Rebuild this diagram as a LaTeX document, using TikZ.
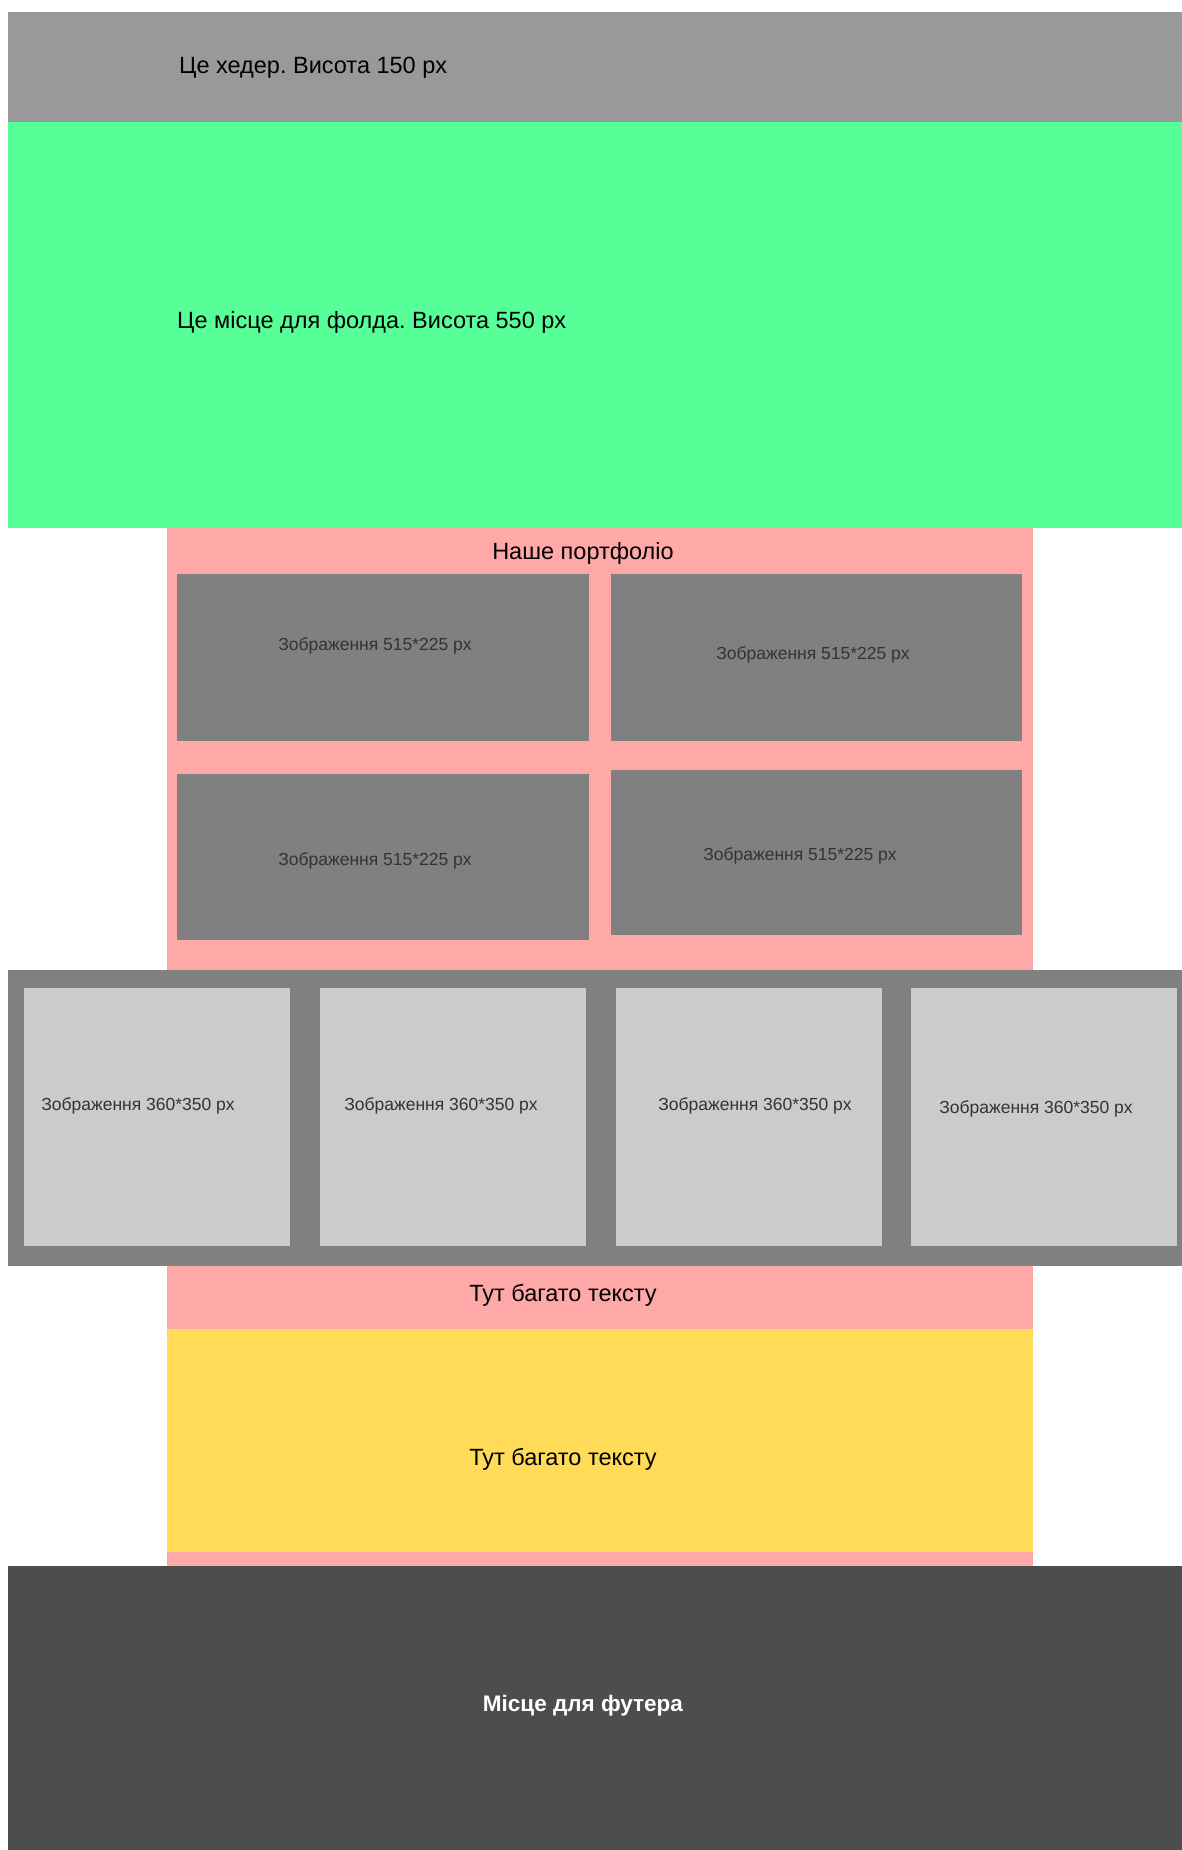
\documentclass[tikz,border=0pt]{standalone}
\usepackage{fontspec}
\setmainfont{Liberation Sans}
\usetikzlibrary{positioning}
\frenchspacing

\definecolor{hdrgray}{HTML}{999999}
\definecolor{foldgreen}{HTML}{57FF99}
\definecolor{pinkbg}{HTML}{FFA8A8}
\definecolor{imggray}{HTML}{808080}
\definecolor{lightimg}{HTML}{CBCBCB}
\definecolor{textyellow}{HTML}{FFDB58}
\definecolor{footgray}{HTML}{4D4D4D}
\definecolor{labelgray}{HTML}{333333}

\begin{document}
\begin{tikzpicture}[x=1pt, y=-1pt,
    every node/.style={inner sep=0pt},
    bigtext/.style={font=\fontsize{23.5}{27}\selectfont, text=black},
    imgtext/.style={font=\fontsize{17.5}{20}\selectfont, text=labelgray}]
	\useasboundingbox (0,0) rectangle (1182,1850);

	% header and fold
	\fill[hdrgray] (8,12) rectangle (1182,122);
	\node[bigtext, anchor=west] (hdrtext) at (179,68) {Це хедер. Висота 150 px};
	\fill[foldgreen] (8,122) rectangle (1182,528);
	\node[bigtext, anchor=west] (foldtext) at (177,322) {Це місце для фолда. Висота 550 px};

	% portfolio
	\fill[pinkbg] (167,528) rectangle (1033,970);
	\node[bigtext] (portfolio) at (583,553) {Наше портфоліо};
	\fill[imggray] (177,574) rectangle (589,741);
	\fill[imggray] (611,574) rectangle (1022,741);
	\fill[imggray] (177,774) rectangle (589,940);
	\fill[imggray] (611,770) rectangle (1022,935);
	\node[imgtext] (imga) at (375,646) {Зображення 515*225 px};
	\node[imgtext] (imgb) at (813,655) {Зображення 515*225 px};
	\node[imgtext] (imgc) at (375,861) {Зображення 515*225 px};
	\node[imgtext] (imgd) at (800,856) {Зображення 515*225 px};

	% gallery strip
	\fill[imggray] (8,970) rectangle (1182,1266);
	\fill[lightimg] (24,988) rectangle (290,1246);
	\fill[lightimg] (320,988) rectangle (586,1246);
	\fill[lightimg] (616,988) rectangle (882,1246);
	\fill[lightimg] (911,988) rectangle (1177,1246);
	\node[imgtext] (gala) at (138,1106) {Зображення 360*350 px};
	\node[imgtext] (galb) at (441,1106) {Зображення 360*350 px};
	\node[imgtext] (galc) at (755,1106) {Зображення 360*350 px};
	\node[imgtext] (gald) at (1036,1109) {Зображення 360*350 px};

	% text blocks
	\fill[pinkbg] (167,1266) rectangle (1033,1566);
	\node[bigtext] (texta) at (563,1295) {Тут багато тексту};
	\fill[textyellow] (167,1329) rectangle (1033,1552);
	\node[bigtext] (textb) at (563,1459) {Тут багато тексту};

	% footer
	\fill[footgray] (8,1566) rectangle (1182,1850);
	\node[bigtext, text=white, font=\fontsize{22.5}{26}\selectfont\bfseries] (footer) at (583,1706) {Місце для футера};
\end{tikzpicture}
\end{document}
